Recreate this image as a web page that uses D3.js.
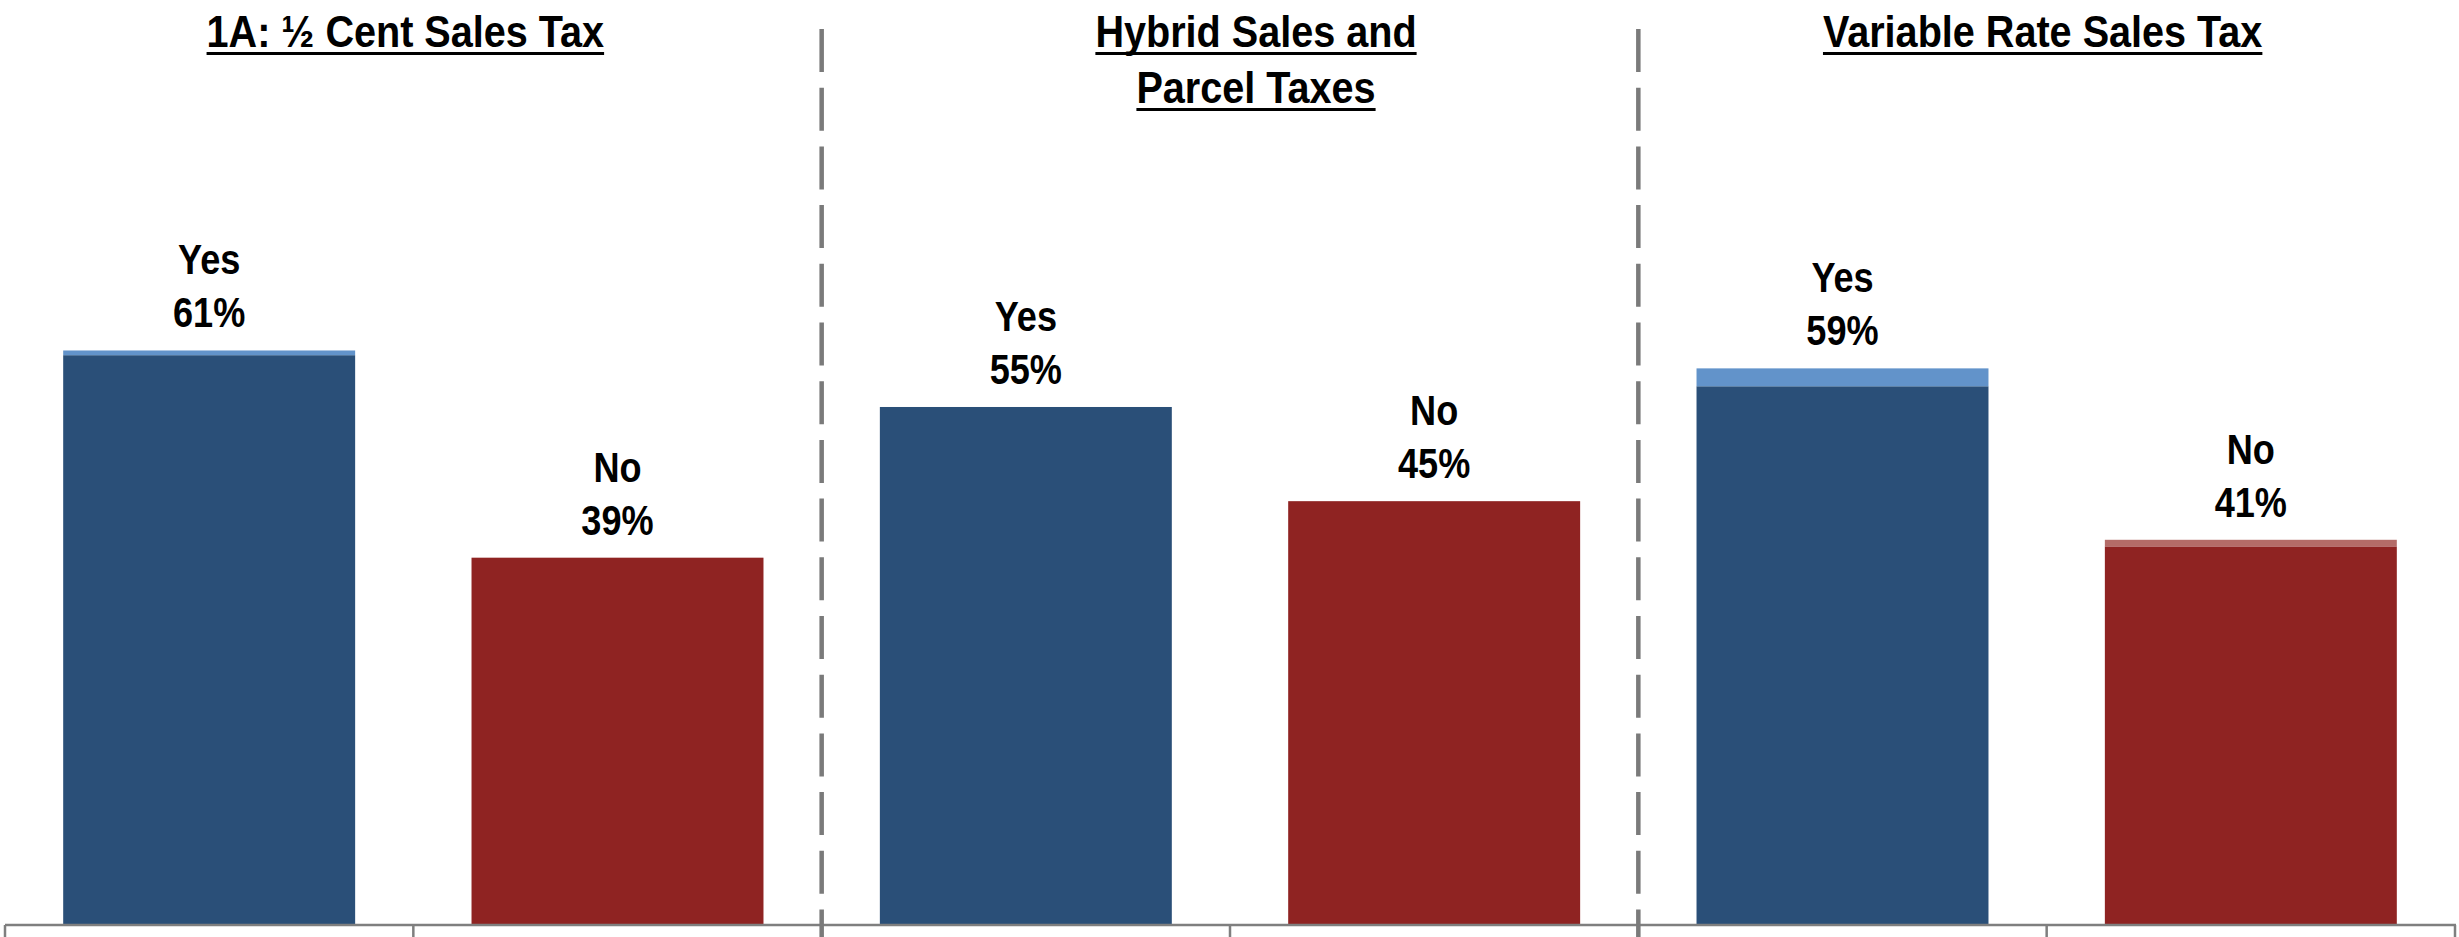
<!DOCTYPE html>
<html>
<head>
<meta charset="utf-8">
<script src="https://cdn.jsdelivr.net/npm/d3@7"></script>
<style>
  html, body { margin: 0; padding: 0; background: #ffffff; }
  svg { display: block; }
</style>
</head>
<body>
<svg id="chart" width="2459" height="937"></svg>
<script>
// ---- data ----
const groupTitles = [["1A: ½ Cent Sales Tax"], ["Hybrid Sales and", "Parcel Taxes"], ["Variable Rate Sales Tax"]];
const categories = ["Yes", "No", "Yes", "No", "Yes", "No"];
const categoryGroup = [0, 0, 1, 1, 2, 2];
const solidValues = [60.5, 39, 55, 45, 57.2, 40.2];
const leanValues = [0.5, 0, 0, 0, 1.9, 0.7];
const percentLabels = ["61%", "39%", "55%", "45%", "59%", "41%"];

// ---- layout ----
const W = 2459, H = 937;
const axisY = 925;
const colors = {
  Yes: { solid: "#2a4f78", lean: "#6293ca" },
  No:  { solid: "#8f2322", lean: "#b46c68" }
};
const font = "'Liberation Sans', Arial, sans-serif";
const titleOffsets = [-8, 26, -4];
const labelScaleX = 0.86, titleScaleX = 0.88;

const svg = d3.select("#chart");
const idx = d3.range(categories.length);

const xBand = d3.scaleBand().domain(idx).range([5, 2455]).paddingInner(0).paddingOuter(0);
const xBar = d3.scaleBand().domain(idx).range([5, 2455]).paddingInner(0.285).paddingOuter(0.1425);
const y = d3.scaleLinear().domain([0, 98]).range([axisY, 2]);

// solid bars
svg.append("g").selectAll("rect.solid")
  .data(idx).join("rect")
  .attr("x", i => xBar(i))
  .attr("width", xBar.bandwidth())
  .attr("y", i => y(solidValues[i]))
  .attr("height", i => y(0) - y(solidValues[i]))
  .attr("fill", i => colors[categories[i]].solid);

// lean segments stacked on top
svg.append("g").selectAll("rect.lean")
  .data(idx.filter(i => leanValues[i] > 0)).join("rect")
  .attr("x", i => xBar(i))
  .attr("width", xBar.bandwidth())
  .attr("y", i => y(solidValues[i] + leanValues[i]))
  .attr("height", i => y(solidValues[i]) - y(solidValues[i] + leanValues[i]))
  .attr("fill", i => colors[categories[i]].lean);

// value labels
const lab = svg.append("g")
  .attr("font-family", font).attr("font-weight", "bold").attr("font-size", 42)
  .attr("text-anchor", "middle").attr("fill", "#000");
idx.forEach(i => {
  const cx = xBar(i) + xBar.bandwidth() / 2;
  const top = y(solidValues[i] + leanValues[i]);
  lab.append("text").attr("transform", `translate(${cx},${top - 76}) scale(${labelScaleX},1)`).text(categories[i]);
  lab.append("text").attr("transform", `translate(${cx},${top - 23}) scale(${labelScaleX},1)`).text(percentLabels[i]);
});

// axis
const axis = d3.axisBottom(xBand).tickSize(0).tickFormat("");
const gAxis = svg.append("g").attr("transform", `translate(0,${axisY})`).call(axis);
gAxis.select(".domain").remove();
svg.append("line").attr("x1", 5).attr("x2", 2456).attr("y1", axisY).attr("y2", axisY)
  .attr("stroke", "#7f7f7f").attr("stroke-width", 2.5);
const boundaries = idx.map(i => xBand(i)).concat([xBand(idx[idx.length - 1]) + xBand.bandwidth()]);
svg.append("g").selectAll("line")
  .data(boundaries).join("line")
  .attr("x1", d => d).attr("x2", d => d)
  .attr("y1", axisY).attr("y2", H)
  .attr("stroke", "#7f7f7f").attr("stroke-width", 2.5);

// group separators (dashed)
const separators = [2, 4].map(i => xBand(i));
svg.append("g").selectAll("line")
  .data(separators).join("line")
  .attr("x1", d => d).attr("x2", d => d)
  .attr("y1", 29).attr("y2", H)
  .attr("stroke", "#7a7a7a").attr("stroke-width", 4.5)
  .attr("stroke-dasharray", "43,15.7");

// group titles, underlined
const tg = svg.append("g")
  .attr("font-family", font).attr("font-weight", "bold").attr("font-size", 45)
  .attr("text-anchor", "middle").attr("fill", "#000");
groupTitles.forEach((lines, g) => {
  const members = idx.filter(i => categoryGroup[i] === g);
  const x0 = xBand(members[0]);
  const x1 = xBand(members[members.length - 1]) + xBand.bandwidth();
  const cx = (x0 + x1) / 2 + titleOffsets[g];
  lines.forEach((line, k) => {
    const by = 47 + k * 56;
    const t = tg.append("text").attr("transform", `translate(${cx},${by}) scale(${titleScaleX},1)`).text(line);
    const w = t.node().getComputedTextLength() * titleScaleX;
    tg.append("rect").attr("x", cx - w / 2).attr("y", by + 5).attr("width", w).attr("height", 3).attr("fill", "#000");
  });
});
</script>
</body>
</html>
